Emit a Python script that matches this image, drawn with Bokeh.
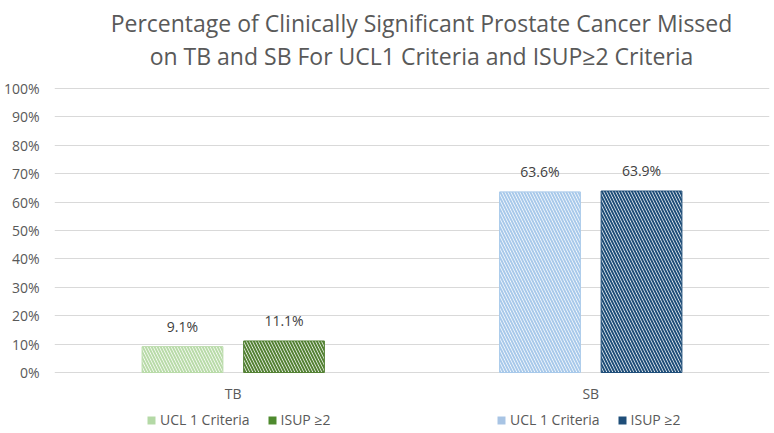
from bokeh.plotting import figure
from bokeh.models import (FactorRange, Range1d, ColumnDataSource, Label, Legend,
                          LegendItem, PrintfTickFormatter, FixedTicker)
from bokeh.transform import dodge
from bokeh.embed import file_html
from bokeh.resources import INLINE
from bokeh.core.properties import value

# ---- data ----
categories = ["TB", "SB"]
ucl1 = [9.1, 63.6]
isup2 = [11.1, 63.9]
ucl1_labels = ["9.1%", "63.6%"]
isup2_labels = ["11.1%", "63.9%"]
series_names = ["UCL 1 Criteria", "ISUP ≥2"]
y_ticks = [0, 10, 20, 30, 40, 50, 60, 70, 80, 90, 100]
title_lines = ["Percentage of Clinically Significant Prostate Cancer Missed",
               "on TB and SB For UCL1 Criteria and ISUP≥2 Criteria"]

# ---- styles ----
FONT = "Open Sans"
TXT = "#595959"
light_col = {"TB": "#b9dba9", "SB": "#a8c9ea"}
dark_col = {"TB": "#548235", "SB": "#1f4e79"}
legend_light = {"TB": "#b4d9a6", "SB": "#a8c4e4"}
legend_dark = {"TB": "#4e8a2e", "SB": "#1f4e79"}

W_PX, H_PX = 774, 433
FRAME_L = 53
ZERO_Y, HUNDRED_Y = 372, 88          # pixel rows of 0% and 100%
PX_PER = (ZERO_Y - HUNDRED_Y) / 100.0

src = ColumnDataSource(dict(
    cat=categories, ucl=ucl1, isup=isup2,
    ucl_lbl=ucl1_labels, isup_lbl=isup2_labels,
    c_light=[light_col[c] for c in categories],
    c_dark=[dark_col[c] for c in categories],
))

p = figure(width=W_PX, height=H_PX,
           x_range=FactorRange(factors=categories, range_padding=0),
           y_range=Range1d(-(H_PX - ZERO_Y) / PX_PER, ZERO_Y / PX_PER),
           output_backend="svg", toolbar_location=None,
           min_border_left=FRAME_L, min_border_right=5,
           min_border_top=0, min_border_bottom=0)

OFF = 0.142
W = 0.226

p.vbar(x=dodge("cat", -OFF, range=p.x_range), top="ucl", width=W, source=src,
       fill_color="white", line_color="c_light", line_width=1,
       hatch_pattern=value("left_diagonal_line"), hatch_color="c_light",
       hatch_scale=6, hatch_weight=2)
p.vbar(x=dodge("cat", OFF, range=p.x_range), top="isup", width=W, source=src,
       fill_color="white", line_color="c_dark", line_width=1,
       hatch_pattern=value("left_diagonal_line"), hatch_color="c_dark",
       hatch_scale=6, hatch_weight=2)

for col, lbl, off in (("ucl", "ucl_lbl", -OFF), ("isup", "isup_lbl", OFF)):
    p.text(x=dodge("cat", off, range=p.x_range), y=col,
           text=lbl, source=src, text_align="center", text_baseline="bottom",
           y_offset=-11, text_font=value(FONT), text_font_size="14px",
           text_color="#404040")

# category labels (drawn below the 0% line)
p.text(x="cat", y=-21 / PX_PER, text="cat", source=src, text_align="center",
       text_baseline="middle", text_font=value(FONT), text_font_size="14px",
       text_color=TXT)

# invisible renderers that only supply solid legend squares
nan = float("nan")
q = {}
for cat in categories:
    q[(cat, 0)] = p.quad(left=[nan], right=[nan], top=[nan], bottom=[nan],
                         fill_color=legend_light[cat], line_color=None)
    q[(cat, 1)] = p.quad(left=[nan], right=[nan], top=[nan], bottom=[nan],
                         fill_color=legend_dark[cat], line_color=None)

leg_locs = {"TB": (145 - FRAME_L, 4), "SB": (495 - FRAME_L, 4)}
for cat in categories:
    leg = Legend(items=[LegendItem(label=series_names[0], renderers=[q[(cat, 0)]], index=0),
                        LegendItem(label=series_names[1], renderers=[q[(cat, 1)]], index=0)],
                 orientation="horizontal", location=leg_locs[cat],
                 glyph_width=10, glyph_height=10, label_standoff=4, spacing=17,
                 padding=0, margin=0, border_line_color=None,
                 background_fill_alpha=0, label_text_font=FONT,
                 label_text_font_size="14px", label_text_color=TXT,
                 label_height=14)
    p.add_layout(leg)

# title
for i, t in enumerate(title_lines):
    p.add_layout(Label(x=420 - FRAME_L, y=H_PX - 22 - 33 * i,
                       x_units="screen", y_units="screen",
                       text=t, text_align="center", text_baseline="middle",
                       text_font=FONT, text_font_size="23px", text_color=TXT))

# axes
p.xaxis.visible = False
p.yaxis.ticker = FixedTicker(ticks=y_ticks)
p.yaxis.formatter = PrintfTickFormatter(format="%d%%")
p.yaxis.axis_line_color = None
p.yaxis.major_tick_line_color = None
p.yaxis.minor_tick_line_color = None
p.yaxis.major_tick_out = 0
p.yaxis.major_tick_in = 0
p.yaxis.minor_tick_out = 0
p.yaxis.major_label_standoff = 15
p.yaxis.major_label_text_font = FONT
p.yaxis.major_label_text_font_size = "14px"
p.yaxis.major_label_text_color = TXT

p.ygrid.ticker = FixedTicker(ticks=y_ticks)
p.ygrid.grid_line_color = "#d9d9d9"
p.xgrid.grid_line_color = None
p.outline_line_color = None

open("out.html", "w").write(file_html(p, INLINE))
